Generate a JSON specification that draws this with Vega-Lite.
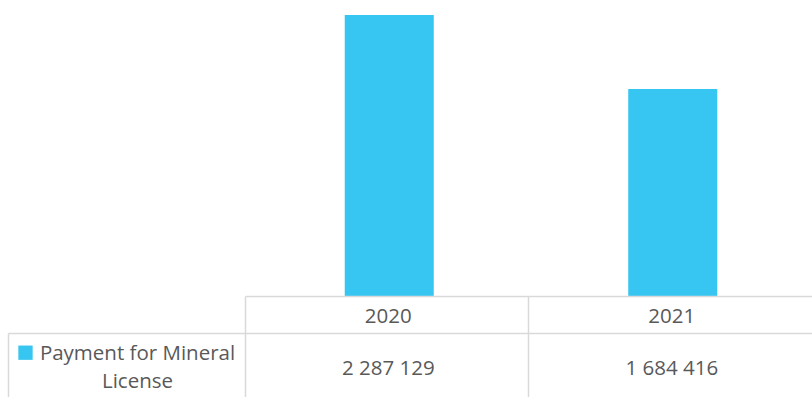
{
  "$schema": "https://vega.github.io/schema/vega-lite/v6.json",
  "padding": 0,
  "background": "white",
  "bounds": "flush",
  "spacing": 0,
  "columns": 3,
  "datasets": {
    "payments": [
      {"year": "2020", "series": "Payment for Mineral License", "amount": 2287129},
      {"year": "2021", "series": "Payment for Mineral License", "amount": 1684416}
    ],
    "legendRow": [
      {"series": "Payment for Mineral License", "line1": "Payment for Mineral", "line2": "License"}
    ]
  },
  "config": {
    "view": {"stroke": null},
    "locale": {"number": {"decimal": ".", "thousands": " ", "grouping": [3], "currency": ["", ""]}},
    "axis": {
      "domainColor": "#d9d9d9", "domainWidth": 1.5,
      "gridColor": "#d9d9d9", "gridWidth": 1.5, "gridOpacity": 1,
      "labels": false, "ticks": false, "title": null
    },
    "text": {"font": "Open Sans", "fontSize": 20.5, "color": "#595959", "baseline": "alphabetic"}
  },
  "concat": [
    {"width": 8, "height": 296, "data": {"values": []}, "mark": "point"},
    {"width": 237, "height": 296, "data": {"values": []}, "mark": "point"},
    {
      "width": 567, "height": 296,
      "data": {"name": "payments"},
      "mark": {"type": "bar", "color": "#37C6F2", "width": {"band": 0.314}, "xOffset": 2.5},
      "encoding": {
        "x": {"field": "year", "type": "ordinal", "scale": {"type": "band", "paddingInner": 0, "paddingOuter": 0}, "axis": null},
        "y": {"field": "amount", "type": "quantitative", "scale": {"domain": [0, 2410000], "nice": false}, "axis": null}
      }
    },
    {"width": 8, "height": 37, "data": {"values": []}, "mark": "point"},
    {"width": 237, "height": 37, "data": {"values": []}, "mark": "point"},
    {
      "width": 567, "height": 37,
      "data": {"name": "payments"},
      "mark": {"type": "text", "dy": 8.8, "dx": 1.5},
      "encoding": {
        "x": {"field": "year", "type": "ordinal", "scale": {"type": "band", "paddingInner": 0, "paddingOuter": 0},
              "axis": {"orient": "top", "domain": true, "grid": true, "bandPosition": 0}},
        "text": {"field": "year", "type": "nominal"}
      }
    },
    {"width": 8, "height": 64, "data": {"values": []}, "mark": "point"},
    {
      "width": 237, "height": 64,
      "data": {"name": "legendRow"},
      "encoding": {
        "x": {"field": "series", "type": "nominal", "axis": {"orient": "top", "domain": true, "grid": false}},
        "y": {"field": "series", "type": "nominal", "axis": {"orient": "left", "domain": true, "grid": false}}
      },
      "layer": [
        {"mark": {"type": "point", "shape": "square", "filled": true, "size": 205, "color": "#37C6F2", "opacity": 1, "xOffset": -101, "yOffset": -12.3}},
        {"mark": {"type": "text", "dx": 11, "dy": -4.7},
         "encoding": {"text": {"field": "line1", "type": "nominal"}}},
        {"mark": {"type": "text", "dx": 11, "dy": 23},
         "encoding": {"text": {"field": "line2", "type": "nominal"}}}
      ]
    },
    {
      "width": 567, "height": 64,
      "data": {"name": "payments"},
      "mark": {"type": "text", "dy": 10.3, "dx": 1.5},
      "encoding": {
        "x": {"field": "year", "type": "ordinal", "scale": {"type": "band", "paddingInner": 0, "paddingOuter": 0},
              "axis": {"orient": "top", "domain": true, "grid": true, "bandPosition": 0}},
        "text": {"field": "amount", "type": "quantitative", "format": ",d"}
      }
    }
  ]
}
